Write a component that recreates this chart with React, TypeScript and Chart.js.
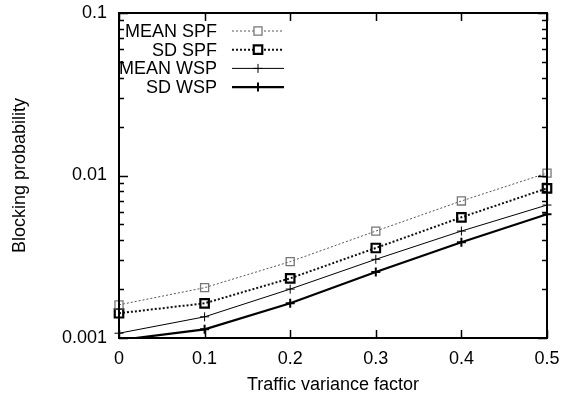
import React, { useEffect, useRef } from 'react';
import { Chart, registerables } from 'chart.js';

Chart.register(...registerables);

const FONT = '"Liberation Sans", Arial, Helvetica, sans-serif';

// Data
const xValues = [0, 0.1, 0.2, 0.3, 0.4, 0.5];
const meanSpf = [0.0016, 0.00204, 0.00295, 0.00455, 0.00697, 0.01035];
const sdSpf = [0.00142, 0.001635, 0.00233, 0.00358, 0.00553, 0.00834];
const meanWsp = [0.00107, 0.00135, 0.002, 0.00305, 0.00455, 0.00658];
const sdWsp = [0.00097, 0.00113, 0.001635, 0.00255, 0.00388, 0.00577];
const seriesLabels = ['MEAN SPF', 'SD SPF', 'MEAN WSP', 'SD WSP'];
const yMajorTicks = [0.001, 0.01, 0.1];
const yMinorMultipliers = [2, 3, 4, 5, 6, 7, 8, 9];
const xTickValues = [0, 0.1, 0.2, 0.3, 0.4, 0.5];
const xTitle = 'Traffic variance factor';
const yTitle = 'Blocking probability';

const Y_MIN = 0.001;
const Y_MAX = 0.1;

const toPoints = (vals: number[]) => xValues.map((x, i) => ({ x, y: vals[i] }));

const frameAndTicks = {
  id: 'frameAndTicks',
  afterDraw(chart: any) {
    const { ctx, chartArea } = chart;
    const { left, right, top, bottom } = chartArea;
    const xs = chart.scales.x;
    const ys = chart.scales.y;
    ctx.save();
    ctx.strokeStyle = '#000';
    ctx.lineWidth = 1.5;
    ctx.beginPath();
    for (let d = 0; d < yMajorTicks.length; d++) {
      const base = yMajorTicks[d];
      const py = Math.round(ys.getPixelForValue(base)) + 0.5;
      ctx.moveTo(left, py); ctx.lineTo(left + 9, py);
      ctx.moveTo(right, py); ctx.lineTo(right - 9, py);
      if (d < yMajorTicks.length - 1) {
        for (const m of yMinorMultipliers) {
          const v = base * m;
          const my = Math.round(ys.getPixelForValue(v)) + 0.5;
          ctx.moveTo(left, my); ctx.lineTo(left + 5, my);
          ctx.moveTo(right, my); ctx.lineTo(right - 5, my);
        }
      }
    }
    for (const xv of xTickValues) {
      const px = Math.round(xs.getPixelForValue(xv)) + 0.5;
      ctx.moveTo(px, bottom); ctx.lineTo(px, bottom - 8);
      ctx.moveTo(px, top); ctx.lineTo(px, top + 8);
    }
    ctx.stroke();
    ctx.lineWidth = 2;
    ctx.strokeRect(left, top, right - left, bottom - top);
    ctx.restore();
  },
};

const gnuLegend = {
  id: 'gnuLegend',
  afterDraw(chart: any) {
    const { ctx } = chart;
    const textRight = 217;
    const lineStart = 232;
    const lineEnd = 284;
    const marker = 258;
    const y0 = 31;
    const step = 18.7;
    ctx.save();
    chart.data.datasets.forEach((ds: any, i: number) => {
      const y = y0 + i * step;
      ctx.fillStyle = '#000';
      ctx.font = `18px ${FONT}`;
      ctx.textAlign = 'right';
      ctx.textBaseline = 'middle';
      ctx.fillText(ds.label, textRight, y + 1);
      ctx.strokeStyle = ds.borderColor;
      ctx.lineWidth = ds.borderWidth;
      ctx.setLineDash(ds.borderDash || []);
      ctx.beginPath();
      ctx.moveTo(lineStart, y);
      ctx.lineTo(lineEnd, y);
      ctx.stroke();
      ctx.setLineDash([]);
      ctx.strokeStyle = ds.pointBorderColor;
      ctx.lineWidth = ds.pointBorderWidth;
      const r = ds.legendRadius;
      ctx.beginPath();
      if (ds.pointStyle === 'rect') {
        const s = Math.SQRT1_2 * r;
        ctx.fillStyle = '#fff';
        ctx.fillRect(marker - s, y - s, 2 * s, 2 * s);
        ctx.rect(marker - s, y - s, 2 * s, 2 * s);
      } else {
        ctx.moveTo(marker - r, y); ctx.lineTo(marker + r, y);
        ctx.moveTo(marker, y - r); ctx.lineTo(marker, y + r);
      }
      ctx.stroke();
    });
    ctx.restore();
  },
};

export default function App() {
  const ref = useRef<HTMLCanvasElement | null>(null);
  useEffect(() => {
    if (!ref.current) return;
    const hideOut = (r: number) => (c: any) => (c.raw && c.raw.y < Y_MIN ? 0 : r);
    const clip = { left: 12, right: 12, top: 12, bottom: 0 };
    const chart = new Chart(ref.current, {
      type: 'line',
      data: {
        datasets: [
          {
            label: seriesLabels[0],
            data: toPoints(meanSpf),
            borderColor: '#555',
            borderWidth: 1,
            borderDash: [2, 2],
            pointStyle: 'rect',
            pointRadius: hideOut(5.7),
            pointBorderColor: '#777',
            pointBorderWidth: 1.3,
            pointBackgroundColor: 'rgba(0,0,0,0)',
            legendRadius: 5.7,
            clip,
          } as any,
          {
            label: seriesLabels[1],
            data: toPoints(sdSpf),
            borderColor: '#111',
            borderWidth: 2,
            borderDash: [2, 2],
            pointStyle: 'rect',
            pointRadius: hideOut(6),
            pointBorderColor: '#000',
            pointBorderWidth: 2.2,
            pointBackgroundColor: 'rgba(0,0,0,0)',
            legendRadius: 6,
            clip,
          } as any,
          {
            label: seriesLabels[2],
            data: toPoints(meanWsp),
            borderColor: '#000',
            borderWidth: 1,
            pointStyle: 'cross',
            pointRadius: hideOut(4.5),
            pointBorderColor: '#000',
            pointBorderWidth: 1,
            legendRadius: 4.5,
            clip,
          } as any,
          {
            label: seriesLabels[3],
            data: toPoints(sdWsp),
            borderColor: '#000',
            borderWidth: 2.2,
            pointStyle: 'cross',
            pointRadius: hideOut(4.5),
            pointBorderColor: '#000',
            pointBorderWidth: 2,
            legendRadius: 4.5,
            clip,
          } as any,
        ],
      },
      options: {
        responsive: false,
        animation: false,
        devicePixelRatio: 1,
        layout: { padding: { left: 0, top: 13, right: 18, bottom: 0 } },
        plugins: { legend: { display: false }, tooltip: { enabled: false } },
        elements: { line: { tension: 0 } },
        scales: {
          x: {
            type: 'linear',
            min: 0,
            max: 0.5,
            grid: { display: false, drawTicks: false },
            border: { display: false },
            afterBuildTicks: (s: any) => {
              s.ticks = xTickValues.map((v) => ({ value: v }));
            },
            afterFit: (s: any) => {
              s.height = 62;
              s.paddingLeft = 0;
              s.paddingRight = 0;
            },
            ticks: {
              color: '#000',
              padding: 10,
              maxRotation: 0,
              font: { family: FONT, size: 18 },
              callback: (v: any) => String(v),
            },
            title: {
              display: true,
              text: xTitle,
              color: '#000',
              font: { family: FONT, size: 18 },
              padding: { top: 0, bottom: 4 },
            },
          },
          y: {
            type: 'logarithmic',
            min: Y_MIN,
            max: Y_MAX,
            grid: { display: false, drawTicks: false },
            border: { display: false },
            afterBuildTicks: (s: any) => {
              s.ticks = yMajorTicks.map((v) => ({ value: v }));
            },
            afterFit: (s: any) => {
              s.width = 119;
              s.paddingTop = 0;
              s.paddingBottom = 0;
            },
            ticks: {
              color: '#000',
              padding: 12,
              font: { family: FONT, size: 18 },
              callback: (v: any) => String(v),
            },
            title: {
              display: true,
              text: yTitle,
              color: '#000',
              font: { family: FONT, size: 18 },
              padding: { top: 9, bottom: 0 },
            },
          },
        },
      },
      plugins: [frameAndTicks, gnuLegend],
    } as any);
    return () => chart.destroy();
  }, []);
  return (
    <div style={{ position: 'absolute', left: 0, top: 0, width: 565, height: 400, background: '#fff' }}>
      <canvas ref={ref} width={565} height={400} />
    </div>
  );
}
